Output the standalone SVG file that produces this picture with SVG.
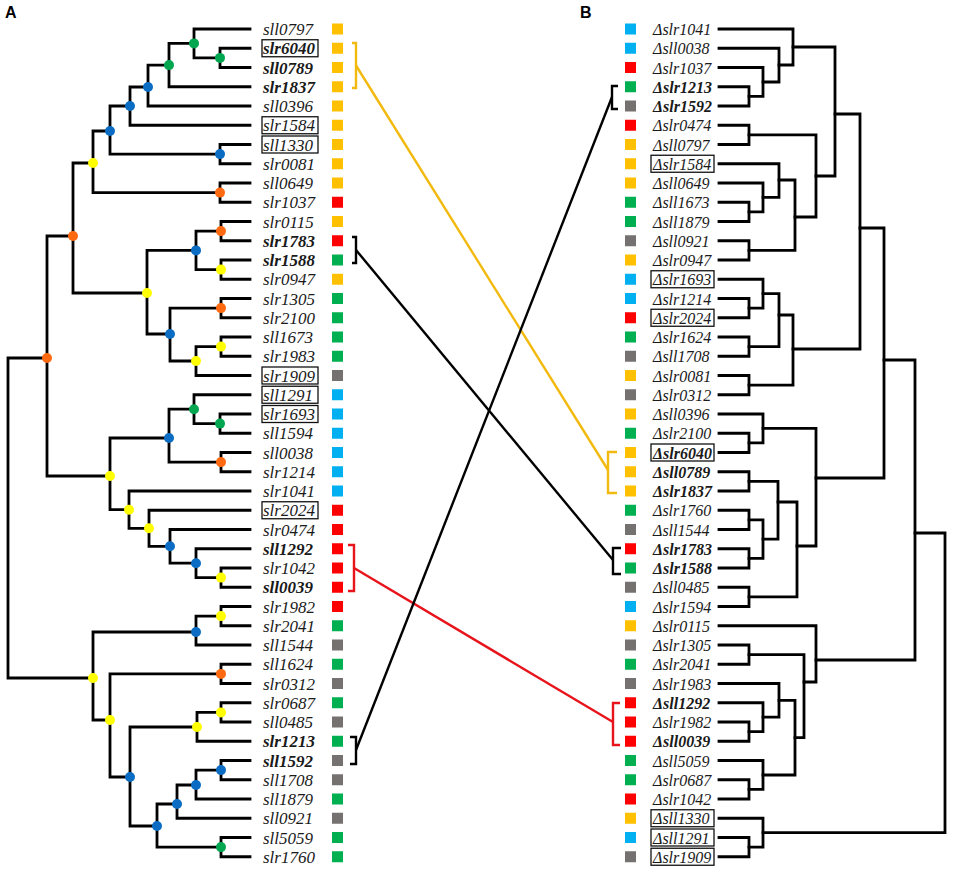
<svg xmlns="http://www.w3.org/2000/svg" width="957" height="871" viewBox="0 0 957 871">
<style>
.t{font-family:"Liberation Serif",serif;font-style:italic;font-size:17px;fill:#1a1a1a}
.r{font-size:16px}
.b{font-weight:bold}
.bx{fill:none;stroke:#111;stroke-width:1.3}
.e{fill:none;stroke:#000;stroke-width:2.8;stroke-linecap:square}
.o{fill:#FFC000}.rd{fill:#FF0000}.g{fill:#00B050}.c{fill:#00B0F0}.k{fill:#767171}
.dg{fill:#00A650}.db{fill:#0A6CC2}.dy{fill:#FFFF00}.do{fill:#FF6A10}
.pl{font-family:"Liberation Sans",Arial,sans-serif;font-weight:bold;font-size:16px;fill:#000}
.cn{fill:none;stroke-width:2.4}
</style>
<rect width="957" height="871" fill="#fff"/>
<text class="pl" x="5" y="18">A</text>
<text class="pl" x="580" y="18">B</text>

<g id="edges-left" class="e">
<path d="M250,48.25 H220 V67.5 H250"/>
<path d="M250,29 H194 V57.9 H220"/>
<path d="M194,43.4 H169 V86.75 H250"/>
<path d="M169,65.1 H148 V106 H250"/>
<path d="M148,87 H130 V125.25 H250"/>
<path d="M250,144.5 H220 V163.75 H250"/>
<path d="M130,106 H110 V154.1 H220"/>
<path d="M250,183 H220 V202.25 H250"/>
<path d="M110,131 H93 V192.6 H220"/>
<path d="M250,221.5 H221 V240.75 H250"/>
<path d="M250,260 H221 V279.25 H250"/>
<path d="M221,231.1 H196 V269.6 H221"/>
<path d="M250,298.5 H221 V317.75 H250"/>
<path d="M250,337 H221 V356.25 H250"/>
<path d="M221,346.6 H196 V375.5 H250"/>
<path d="M221,308.1 H170 V361 H196"/>
<path d="M196,250.4 H147 V334 H170"/>
<path d="M93,163 H73 V293 H147"/>
<path d="M250,414 H220 V433.25 H250"/>
<path d="M250,394.75 H194 V423.6 H220"/>
<path d="M250,452.5 H221 V471.75 H250"/>
<path d="M194,409.2 H169 V462.1 H221"/>
<path d="M250,568 H221 V587.25 H250"/>
<path d="M250,548.75 H196 V577.6 H221"/>
<path d="M250,529.5 H170 V563.2 H196"/>
<path d="M250,510.25 H149 V546.3 H170"/>
<path d="M250,491 H129 V528.3 H149"/>
<path d="M169,438 H110 V509.7 H129"/>
<path d="M73,236 H47 V476 H110"/>
<path d="M250,606.5 H221 V625.75 H250"/>
<path d="M221,616.1 H196 V645 H250"/>
<path d="M250,664.25 H221 V683.5 H250"/>
<path d="M250,702.75 H221 V722 H250"/>
<path d="M221,712.4 H197 V741.25 H250"/>
<path d="M250,760.5 H221 V779.75 H250"/>
<path d="M221,770.1 H196 V799 H250"/>
<path d="M196,785 H177 V818.25 H250"/>
<path d="M250,837.5 H221 V856.75 H250"/>
<path d="M177,804 H157 V847.1 H221"/>
<path d="M197,727 H130 V826 H157"/>
<path d="M221,673.9 H110 V777 H130"/>
<path d="M196,632 H93 V720 H110"/>
<path d="M47,358 H8 V678 H93"/>
</g>

<g id="nodes-left">
<circle id="nA" class="dg" cx="194" cy="43.4" r="5"/>
<circle id="nB" class="dg" cx="220" cy="57.9" r="5"/>
<circle id="nC" class="dg" cx="169" cy="65.1" r="5"/>
<circle id="nD" class="db" cx="148" cy="87" r="5"/>
<circle id="nE" class="db" cx="130" cy="106" r="5"/>
<circle id="nF" class="db" cx="110" cy="131" r="5"/>
<circle id="nG" class="db" cx="220" cy="154.1" r="5"/>
<circle id="nH" class="do" cx="220" cy="192.6" r="5"/>
<circle id="nI" class="dy" cx="93" cy="163" r="5"/>
<circle id="nJ" class="do" cx="73" cy="236" r="5"/>
<circle id="nK" class="dy" cx="147" cy="293" r="5"/>
<circle id="nL" class="db" cx="196" cy="250.4" r="5"/>
<circle id="nM" class="do" cx="221" cy="231.1" r="5"/>
<circle id="nN" class="dy" cx="221" cy="269.6" r="5"/>
<circle id="nO" class="db" cx="170" cy="334" r="5"/>
<circle id="nP" class="do" cx="221" cy="308.1" r="5"/>
<circle id="nQ" class="dy" cx="196" cy="361" r="5"/>
<circle id="nR" class="dy" cx="221" cy="346.6" r="5"/>
<circle id="nS" class="do" cx="47" cy="358" r="5"/>
<circle id="nT" class="dy" cx="110" cy="476" r="5"/>
<circle id="nV" class="dg" cx="194" cy="409.2" r="5"/>
<circle id="nW" class="dg" cx="220" cy="423.6" r="5"/>
<circle id="nX" class="db" cx="169" cy="438" r="5"/>
<circle id="nY" class="do" cx="221" cy="462.1" r="5"/>
<circle id="nZ" class="dy" cx="129" cy="509.7" r="5"/>
<circle id="nAA" class="dy" cx="149" cy="528.3" r="5"/>
<circle id="nAB" class="db" cx="170" cy="546.3" r="5"/>
<circle id="nAC" class="db" cx="196" cy="563.2" r="5"/>
<circle id="nAD" class="dy" cx="221" cy="577.6" r="5"/>
<circle id="nAE" class="dy" cx="221" cy="616.1" r="5"/>
<circle id="nAF" class="db" cx="196" cy="632" r="5"/>
<circle id="nU" class="dy" cx="93" cy="678" r="5"/>
<circle id="nAG" class="dy" cx="110" cy="720" r="5"/>
<circle id="nAH" class="do" cx="221" cy="673.9" r="5"/>
<circle id="nAI" class="db" cx="130" cy="777" r="5"/>
<circle id="nAJ" class="dy" cx="197" cy="727" r="5"/>
<circle id="nAL" class="dy" cx="221" cy="712.4" r="5"/>
<circle id="nAK" class="db" cx="157" cy="826" r="5"/>
<circle id="nAM" class="db" cx="177" cy="804" r="5"/>
<circle id="nAO" class="db" cx="196" cy="785" r="5"/>
<circle id="nAP" class="db" cx="221" cy="770.1" r="5"/>
<circle id="nAN" class="dg" cx="221" cy="847.1" r="5"/>
</g>

<g id="leaves-left">
<g id="L01" transform="translate(0,29)"><text class="t" x="263" y="6">sll0797</text><rect class="o" x="332" y="-5.5" width="11" height="11"/></g>
<g id="L02" transform="translate(0,48.25)"><rect class="bx" x="262" y="-8.5" width="56" height="17"/><text class="t b" x="263" y="6">slr6040</text><rect class="o" x="332" y="-5.5" width="11" height="11"/></g>
<g id="L03" transform="translate(0,67.5)"><text class="t b" x="263" y="6">sll0789</text><rect class="o" x="332" y="-5.5" width="11" height="11"/></g>
<g id="L04" transform="translate(0,86.75)"><text class="t b" x="263" y="6">slr1837</text><rect class="o" x="332" y="-5.5" width="11" height="11"/></g>
<g id="L05" transform="translate(0,106)"><text class="t" x="263" y="6">sll0396</text><rect class="o" x="332" y="-5.5" width="11" height="11"/></g>
<g id="L06" transform="translate(0,125.25)"><rect class="bx" x="262" y="-8.5" width="56" height="17"/><text class="t" x="263" y="6">slr1584</text><rect class="o" x="332" y="-5.5" width="11" height="11"/></g>
<g id="L07" transform="translate(0,144.5)"><rect class="bx" x="262" y="-8.5" width="56" height="17"/><text class="t" x="263" y="6">sll1330</text><rect class="o" x="332" y="-5.5" width="11" height="11"/></g>
<g id="L08" transform="translate(0,163.75)"><text class="t" x="263" y="6">slr0081</text><rect class="o" x="332" y="-5.5" width="11" height="11"/></g>
<g id="L09" transform="translate(0,183)"><text class="t" x="263" y="6">sll0649</text><rect class="o" x="332" y="-5.5" width="11" height="11"/></g>
<g id="L10" transform="translate(0,202.25)"><text class="t" x="263" y="6">slr1037</text><rect class="rd" x="332" y="-5.5" width="11" height="11"/></g>
<g id="L11" transform="translate(0,221.5)"><text class="t" x="263" y="6">slr0115</text><rect class="o" x="332" y="-5.5" width="11" height="11"/></g>
<g id="L12" transform="translate(0,240.75)"><text class="t b" x="263" y="6">slr1783</text><rect class="rd" x="332" y="-5.5" width="11" height="11"/></g>
<g id="L13" transform="translate(0,260)"><text class="t b" x="263" y="6">slr1588</text><rect class="g" x="332" y="-5.5" width="11" height="11"/></g>
<g id="L14" transform="translate(0,279.25)"><text class="t" x="263" y="6">slr0947</text><rect class="o" x="332" y="-5.5" width="11" height="11"/></g>
<g id="L15" transform="translate(0,298.5)"><text class="t" x="263" y="6">slr1305</text><rect class="g" x="332" y="-5.5" width="11" height="11"/></g>
<g id="L16" transform="translate(0,317.75)"><text class="t" x="263" y="6">slr2100</text><rect class="g" x="332" y="-5.5" width="11" height="11"/></g>
<g id="L17" transform="translate(0,337)"><text class="t" x="263" y="6">sll1673</text><rect class="g" x="332" y="-5.5" width="11" height="11"/></g>
<g id="L18" transform="translate(0,356.25)"><text class="t" x="263" y="6">slr1983</text><rect class="g" x="332" y="-5.5" width="11" height="11"/></g>
<g id="L19" transform="translate(0,375.5)"><rect class="bx" x="262" y="-8.5" width="56" height="17"/><text class="t" x="263" y="6">slr1909</text><rect class="k" x="332" y="-5.5" width="11" height="11"/></g>
<g id="L20" transform="translate(0,394.75)"><rect class="bx" x="262" y="-8.5" width="56" height="17"/><text class="t" x="263" y="6">sll1291</text><rect class="c" x="332" y="-5.5" width="11" height="11"/></g>
<g id="L21" transform="translate(0,414)"><rect class="bx" x="262" y="-8.5" width="56" height="17"/><text class="t" x="263" y="6">slr1693</text><rect class="c" x="332" y="-5.5" width="11" height="11"/></g>
<g id="L22" transform="translate(0,433.25)"><text class="t" x="263" y="6">sll1594</text><rect class="c" x="332" y="-5.5" width="11" height="11"/></g>
<g id="L23" transform="translate(0,452.5)"><text class="t" x="263" y="6">sll0038</text><rect class="c" x="332" y="-5.5" width="11" height="11"/></g>
<g id="L24" transform="translate(0,471.75)"><text class="t" x="263" y="6">slr1214</text><rect class="c" x="332" y="-5.5" width="11" height="11"/></g>
<g id="L25" transform="translate(0,491)"><text class="t" x="263" y="6">slr1041</text><rect class="c" x="332" y="-5.5" width="11" height="11"/></g>
<g id="L26" transform="translate(0,510.25)"><rect class="bx" x="262" y="-8.5" width="56" height="17"/><text class="t" x="263" y="6">slr2024</text><rect class="rd" x="332" y="-5.5" width="11" height="11"/></g>
<g id="L27" transform="translate(0,529.5)"><text class="t" x="263" y="6">slr0474</text><rect class="rd" x="332" y="-5.5" width="11" height="11"/></g>
<g id="L28" transform="translate(0,548.75)"><text class="t b" x="263" y="6">sll1292</text><rect class="rd" x="332" y="-5.5" width="11" height="11"/></g>
<g id="L29" transform="translate(0,568)"><text class="t" x="263" y="6">slr1042</text><rect class="rd" x="332" y="-5.5" width="11" height="11"/></g>
<g id="L30" transform="translate(0,587.25)"><text class="t b" x="263" y="6">sll0039</text><rect class="rd" x="332" y="-5.5" width="11" height="11"/></g>
<g id="L31" transform="translate(0,606.5)"><text class="t" x="263" y="6">slr1982</text><rect class="rd" x="332" y="-5.5" width="11" height="11"/></g>
<g id="L32" transform="translate(0,625.75)"><text class="t" x="263" y="6">slr2041</text><rect class="g" x="332" y="-5.5" width="11" height="11"/></g>
<g id="L33" transform="translate(0,645)"><text class="t" x="263" y="6">sll1544</text><rect class="k" x="332" y="-5.5" width="11" height="11"/></g>
<g id="L34" transform="translate(0,664.25)"><text class="t" x="263" y="6">sll1624</text><rect class="g" x="332" y="-5.5" width="11" height="11"/></g>
<g id="L35" transform="translate(0,683.5)"><text class="t" x="263" y="6">slr0312</text><rect class="k" x="332" y="-5.5" width="11" height="11"/></g>
<g id="L36" transform="translate(0,702.75)"><text class="t" x="263" y="6">slr0687</text><rect class="g" x="332" y="-5.5" width="11" height="11"/></g>
<g id="L37" transform="translate(0,722)"><text class="t" x="263" y="6">sll0485</text><rect class="k" x="332" y="-5.5" width="11" height="11"/></g>
<g id="L38" transform="translate(0,741.25)"><text class="t b" x="263" y="6">slr1213</text><rect class="g" x="332" y="-5.5" width="11" height="11"/></g>
<g id="L39" transform="translate(0,760.5)"><text class="t b" x="263" y="6">sll1592</text><rect class="k" x="332" y="-5.5" width="11" height="11"/></g>
<g id="L40" transform="translate(0,779.75)"><text class="t" x="263" y="6">sll1708</text><rect class="k" x="332" y="-5.5" width="11" height="11"/></g>
<g id="L41" transform="translate(0,799)"><text class="t" x="263" y="6">sll1879</text><rect class="g" x="332" y="-5.5" width="11" height="11"/></g>
<g id="L42" transform="translate(0,818.25)"><text class="t" x="263" y="6">sll0921</text><rect class="k" x="332" y="-5.5" width="11" height="11"/></g>
<g id="L43" transform="translate(0,837.5)"><text class="t" x="263" y="6">sll5059</text><rect class="g" x="332" y="-5.5" width="11" height="11"/></g>
<g id="L44" transform="translate(0,856.75)"><text class="t" x="263" y="6">slr1760</text><rect class="g" x="332" y="-5.5" width="11" height="11"/></g>
</g>

<g id="edges-right" class="e">
<path d="M719,86.75 H749 V106 H719"/>
<path d="M719,67.5 H763 V96.4 H749"/>
<path d="M719,48.25 H779 V82 H763"/>
<path d="M719,29 H793 V65 H779"/>
<path d="M719,125.25 H749 V144.5 H719"/>
<path d="M719,202.25 H749 V221.5 H719"/>
<path d="M719,183 H763 V211.9 H749"/>
<path d="M719,163.75 H779 V197.4 H763"/>
<path d="M719,240.75 H749 V260 H719"/>
<path d="M779,180 H795 V250.4 H749"/>
<path d="M749,134.9 H816 V217 H795"/>
<path d="M793,47 H835 V176 H816"/>
<path d="M719,298.5 H749 V317.75 H719"/>
<path d="M719,279.25 H763 V308.1 H749"/>
<path d="M719,337 H749 V356.25 H719"/>
<path d="M763,293.7 H779 V346.6 H749"/>
<path d="M719,375.5 H749 V394.75 H719"/>
<path d="M779,315 H793 V385.1 H749"/>
<path d="M835,114 H860 V349 H793"/>
<path d="M719,433.25 H749 V452.5 H719"/>
<path d="M719,414 H763 V442.9 H749"/>
<path d="M719,471.75 H749 V491 H719"/>
<path d="M719,510.25 H749 V529.5 H719"/>
<path d="M719,548.75 H749 V568 H719"/>
<path d="M749,519.9 H763 V558.4 H749"/>
<path d="M749,481.4 H778 V539.1 H763"/>
<path d="M719,587.25 H749 V606.5 H719"/>
<path d="M778,502 H797 V596.9 H749"/>
<path d="M763,428.4 H816 V546 H797"/>
<path d="M860,228 H884 V478 H816"/>
<path d="M719,645 H749 V664.25 H719"/>
<path d="M719,722 H749 V741.25 H719"/>
<path d="M719,702.75 H763 V731.6 H749"/>
<path d="M719,683.5 H779 V717.2 H763"/>
<path d="M719,779.75 H749 V799 H719"/>
<path d="M719,760.5 H763 V789.4 H749"/>
<path d="M779,700.4 H795 V775 H763"/>
<path d="M749,654.6 H804 V737.7 H795"/>
<path d="M719,625.75 H816 V682 H804"/>
<path d="M884,360 H915 V660 H816"/>
<path d="M719,837.5 H749 V856.75 H719"/>
<path d="M719,818.25 H763 V847.1 H749"/>
<path d="M915,533 H945 V832.7 H763"/>
</g>

<g id="leaves-right">
<g id="R01" transform="translate(0,29)"><rect class="c" x="625" y="-5.5" width="11" height="11"/><text class="t r" x="653" y="6">Δslr1041</text></g>
<g id="R02" transform="translate(0,48.25)"><rect class="c" x="625" y="-5.5" width="11" height="11"/><text class="t r" x="653" y="6">Δsll0038</text></g>
<g id="R03" transform="translate(0,67.5)"><rect class="rd" x="625" y="-5.5" width="11" height="11"/><text class="t r" x="653" y="6">Δslr1037</text></g>
<g id="R04" transform="translate(0,86.75)"><rect class="g" x="625" y="-5.5" width="11" height="11"/><text class="t r b" x="653" y="6">Δslr1213</text></g>
<g id="R05" transform="translate(0,106)"><rect class="k" x="625" y="-5.5" width="11" height="11"/><text class="t r b" x="653" y="6">Δslr1592</text></g>
<g id="R06" transform="translate(0,125.25)"><rect class="rd" x="625" y="-5.5" width="11" height="11"/><text class="t r" x="653" y="6">Δslr0474</text></g>
<g id="R07" transform="translate(0,144.5)"><rect class="o" x="625" y="-5.5" width="11" height="11"/><text class="t r" x="653" y="6">Δsll0797</text></g>
<g id="R08" transform="translate(0,163.75)"><rect class="o" x="625" y="-5.5" width="11" height="11"/><rect class="bx" x="651" y="-8.5" width="63" height="17"/><text class="t r" x="653" y="6">Δslr1584</text></g>
<g id="R09" transform="translate(0,183)"><rect class="o" x="625" y="-5.5" width="11" height="11"/><text class="t r" x="653" y="6">Δsll0649</text></g>
<g id="R10" transform="translate(0,202.25)"><rect class="g" x="625" y="-5.5" width="11" height="11"/><text class="t r" x="653" y="6">Δsll1673</text></g>
<g id="R11" transform="translate(0,221.5)"><rect class="g" x="625" y="-5.5" width="11" height="11"/><text class="t r" x="653" y="6">Δsll1879</text></g>
<g id="R12" transform="translate(0,240.75)"><rect class="k" x="625" y="-5.5" width="11" height="11"/><text class="t r" x="653" y="6">Δsll0921</text></g>
<g id="R13" transform="translate(0,260)"><rect class="o" x="625" y="-5.5" width="11" height="11"/><text class="t r" x="653" y="6">Δslr0947</text></g>
<g id="R14" transform="translate(0,279.25)"><rect class="c" x="625" y="-5.5" width="11" height="11"/><rect class="bx" x="651" y="-8.5" width="63" height="17"/><text class="t r" x="653" y="6">Δslr1693</text></g>
<g id="R15" transform="translate(0,298.5)"><rect class="c" x="625" y="-5.5" width="11" height="11"/><text class="t r" x="653" y="6">Δslr1214</text></g>
<g id="R16" transform="translate(0,317.75)"><rect class="rd" x="625" y="-5.5" width="11" height="11"/><rect class="bx" x="651" y="-8.5" width="63" height="17"/><text class="t r" x="653" y="6">Δslr2024</text></g>
<g id="R17" transform="translate(0,337)"><rect class="g" x="625" y="-5.5" width="11" height="11"/><text class="t r" x="653" y="6">Δslr1624</text></g>
<g id="R18" transform="translate(0,356.25)"><rect class="k" x="625" y="-5.5" width="11" height="11"/><text class="t r" x="653" y="6">Δsll1708</text></g>
<g id="R19" transform="translate(0,375.5)"><rect class="o" x="625" y="-5.5" width="11" height="11"/><text class="t r" x="653" y="6">Δslr0081</text></g>
<g id="R20" transform="translate(0,394.75)"><rect class="k" x="625" y="-5.5" width="11" height="11"/><text class="t r" x="653" y="6">Δslr0312</text></g>
<g id="R21" transform="translate(0,414)"><rect class="o" x="625" y="-5.5" width="11" height="11"/><text class="t r" x="653" y="6">Δsll0396</text></g>
<g id="R22" transform="translate(0,433.25)"><rect class="g" x="625" y="-5.5" width="11" height="11"/><text class="t r" x="653" y="6">Δslr2100</text></g>
<g id="R23" transform="translate(0,452.5)"><rect class="o" x="625" y="-5.5" width="11" height="11"/><rect class="bx" x="651" y="-8.5" width="63" height="17"/><text class="t r b" x="653" y="6">Δslr6040</text></g>
<g id="R24" transform="translate(0,471.75)"><rect class="o" x="625" y="-5.5" width="11" height="11"/><text class="t r b" x="653" y="6">Δsll0789</text></g>
<g id="R25" transform="translate(0,491)"><rect class="o" x="625" y="-5.5" width="11" height="11"/><text class="t r b" x="653" y="6">Δslr1837</text></g>
<g id="R26" transform="translate(0,510.25)"><rect class="g" x="625" y="-5.5" width="11" height="11"/><text class="t r" x="653" y="6">Δslr1760</text></g>
<g id="R27" transform="translate(0,529.5)"><rect class="k" x="625" y="-5.5" width="11" height="11"/><text class="t r" x="653" y="6">Δsll1544</text></g>
<g id="R28" transform="translate(0,548.75)"><rect class="rd" x="625" y="-5.5" width="11" height="11"/><text class="t r b" x="653" y="6">Δslr1783</text></g>
<g id="R29" transform="translate(0,568)"><rect class="g" x="625" y="-5.5" width="11" height="11"/><text class="t r b" x="653" y="6">Δslr1588</text></g>
<g id="R30" transform="translate(0,587.25)"><rect class="k" x="625" y="-5.5" width="11" height="11"/><text class="t r" x="653" y="6">Δsll0485</text></g>
<g id="R31" transform="translate(0,606.5)"><rect class="c" x="625" y="-5.5" width="11" height="11"/><text class="t r" x="653" y="6">Δslr1594</text></g>
<g id="R32" transform="translate(0,625.75)"><rect class="o" x="625" y="-5.5" width="11" height="11"/><text class="t r" x="653" y="6">Δslr0115</text></g>
<g id="R33" transform="translate(0,645)"><rect class="k" x="625" y="-5.5" width="11" height="11"/><text class="t r" x="653" y="6">Δslr1305</text></g>
<g id="R34" transform="translate(0,664.25)"><rect class="g" x="625" y="-5.5" width="11" height="11"/><text class="t r" x="653" y="6">Δslr2041</text></g>
<g id="R35" transform="translate(0,683.5)"><rect class="k" x="625" y="-5.5" width="11" height="11"/><text class="t r" x="653" y="6">Δslr1983</text></g>
<g id="R36" transform="translate(0,702.75)"><rect class="rd" x="625" y="-5.5" width="11" height="11"/><text class="t r b" x="653" y="6">Δsll1292</text></g>
<g id="R37" transform="translate(0,722)"><rect class="rd" x="625" y="-5.5" width="11" height="11"/><text class="t r" x="653" y="6">Δslr1982</text></g>
<g id="R38" transform="translate(0,741.25)"><rect class="rd" x="625" y="-5.5" width="11" height="11"/><text class="t r b" x="653" y="6">Δsll0039</text></g>
<g id="R39" transform="translate(0,760.5)"><rect class="g" x="625" y="-5.5" width="11" height="11"/><text class="t r" x="653" y="6">Δsll5059</text></g>
<g id="R40" transform="translate(0,779.75)"><rect class="g" x="625" y="-5.5" width="11" height="11"/><text class="t r" x="653" y="6">Δslr0687</text></g>
<g id="R41" transform="translate(0,799)"><rect class="rd" x="625" y="-5.5" width="11" height="11"/><text class="t r" x="653" y="6">Δslr1042</text></g>
<g id="R42" transform="translate(0,818.25)"><rect class="o" x="625" y="-5.5" width="11" height="11"/><rect class="bx" x="651" y="-8.5" width="63" height="17"/><text class="t r" x="653" y="6">Δsll1330</text></g>
<g id="R43" transform="translate(0,837.5)"><rect class="c" x="625" y="-5.5" width="11" height="11"/><rect class="bx" x="651" y="-8.5" width="63" height="17"/><text class="t r" x="653" y="6">Δsll1291</text></g>
<g id="R44" transform="translate(0,856.75)"><rect class="k" x="625" y="-5.5" width="11" height="11"/><rect class="bx" x="651" y="-8.5" width="63" height="17"/><text class="t r" x="653" y="6">Δslr1909</text></g>
</g>

<g id="connectors">
<g stroke="#F2B90F" class="cn">
<path d="M352,43 H356 V88 H352"/>
<path d="M356,65.5 L608,470"/>
<path d="M617,452 H608 V493 H617"/>
</g>
<g stroke="#000" class="cn">
<path d="M352,237 H356 V263 H352"/>
<path d="M356,250 L613,560"/>
<path d="M621,548 H613 V574 H621"/>
</g>
<g stroke="#E8141B" class="cn">
<path d="M348,545 H354 V591 H348"/>
<path d="M354,568 L613,722"/>
<path d="M620,703 H613 V745 H620"/>
</g>
<g stroke="#000" class="cn">
<path d="M350,737 H356 V764 H350"/>
<path d="M356,750 L612,97"/>
<path d="M618,86 H612 V109 H618"/>
</g>
</g>
</svg>
